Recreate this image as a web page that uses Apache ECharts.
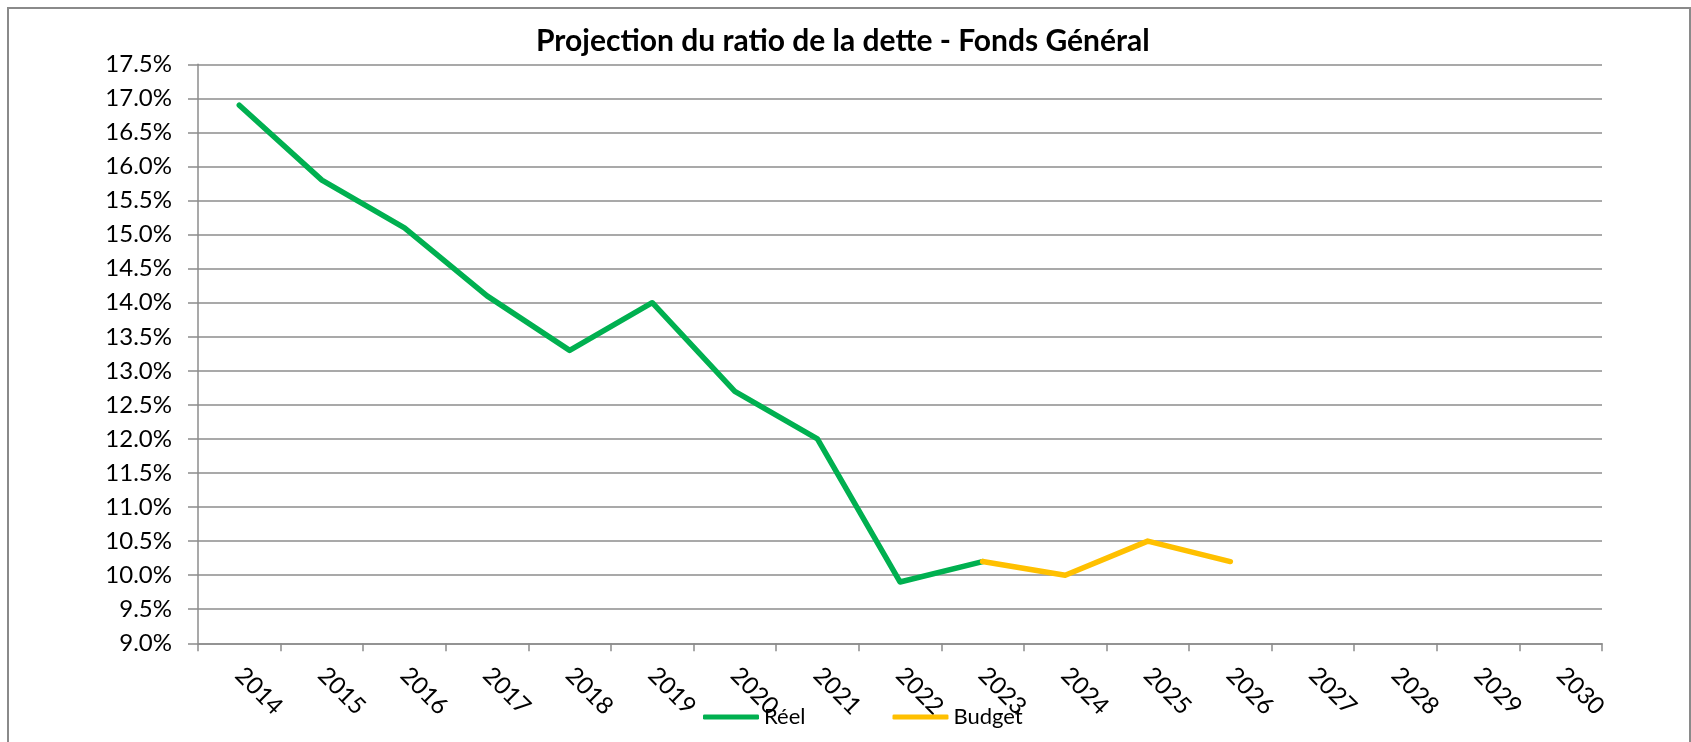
<!DOCTYPE html>
<html>
<head>
<meta charset="utf-8">
<script src="https://cdn.jsdelivr.net/npm/echarts@6/dist/echarts.min.js"></script>
<style>
html,body{margin:0;padding:0;background:#fff;}
#chart{width:1691px;height:742px;}
</style>
</head>
<body>
<div id="chart"></div>
<script>
// Categories (years)
const years = ['2014','2015','2016','2017','2018','2019','2020','2021','2022','2023','2024','2025','2026','2027','2028','2029','2030'];
// Réel: 2014 – 2023 (percent)
const reelValues = [16.9, 15.8, 15.1, 14.1, 13.3, 14.0, 12.7, 12.0, 9.9, 10.2];
// Budget: 2023 – 2026 (percent)
const budgetYears = ['2023','2024','2025','2026'];
const budgetValues = [10.2, 10.0, 10.5, 10.2];
// Y axis ticks
const yMin = 9.0, yMax = 17.5, yStep = 0.5;

const reelData = years.map((y, i) => i < reelValues.length ? reelValues[i] : null);
const budgetData = years.map(y => {
  const k = budgetYears.indexOf(y);
  return k >= 0 ? budgetValues[k] : null;
});

const FONT = 'Lato';
const chart = echarts.init(document.getElementById('chart'), null, {renderer: 'canvas'});
chart.setOption({
  backgroundColor: '#ffffff',
  animation: false,
  title: {
    text: 'Projection du ratio de la dette - Fonds Général',
    left: 536, top: 26, padding: 0,
    textStyle: {fontFamily: FONT, fontWeight: 'bold', fontSize: 30, color: '#000'}
  },
  graphic: [{
    type: 'rect', silent: true, z: -1,
    shape: {x: 8, y: 8, width: 1682, height: 780},
    style: {fill: 'none', stroke: '#8a8a8a', lineWidth: 2}
  }],
  legend: {
    left: 703, top: 706, padding: 0,
    itemWidth: 56, itemHeight: 5, itemGap: 87,
    icon: 'roundRect',
    textStyle: {fontFamily: FONT, fontSize: 22, color: '#000', padding: [0,0,0,0]},
    data: ['Réel', 'Budget']
  },
  grid: {left: 198, right: 89, top: 64.3, bottom: 98.7, containLabel: false},
  xAxis: {
    type: 'category',
    data: years,
    boundaryGap: true,
    axisLine: {lineStyle: {color: '#8c8c8c', width: 1.5}},
    axisTick: {show: true, length: 8, inside: false, lineStyle: {color: '#8c8c8c', width: 1.5}},
    axisLabel: {rotate: -45, margin: 28, fontFamily: FONT, fontSize: 24, color: '#000', interval: 0},
    splitLine: {show: false}
  },
  yAxis: {
    type: 'value',
    min: yMin, max: yMax, interval: yStep,
    axisLine: {show: true, lineStyle: {color: '#8c8c8c', width: 1.5}},
    axisTick: {show: true, length: 10, lineStyle: {color: '#8c8c8c', width: 1.5}},
    axisLabel: {margin: 26, fontFamily: FONT, fontSize: 24, color: '#000',
      formatter: v => v.toFixed(1) + '%'},
    splitLine: {show: true, lineStyle: {color: '#8c8c8c', width: 1.5}}
  },
  series: [
    {
      name: 'Réel', type: 'line', data: reelData,
      showSymbol: false, symbol: 'none', connectNulls: false,
      itemStyle: {color: '#00B050'},
      lineStyle: {color: '#00B050', width: 5.5, cap: 'round', join: 'round'},
      z: 3
    },
    {
      name: 'Budget', type: 'line', data: budgetData,
      showSymbol: false, symbol: 'none', connectNulls: false,
      itemStyle: {color: '#FFC000'},
      lineStyle: {color: '#FFC000', width: 5.5, cap: 'round', join: 'round'},
      z: 4
    }
  ]
});
</script>
</body>
</html>
